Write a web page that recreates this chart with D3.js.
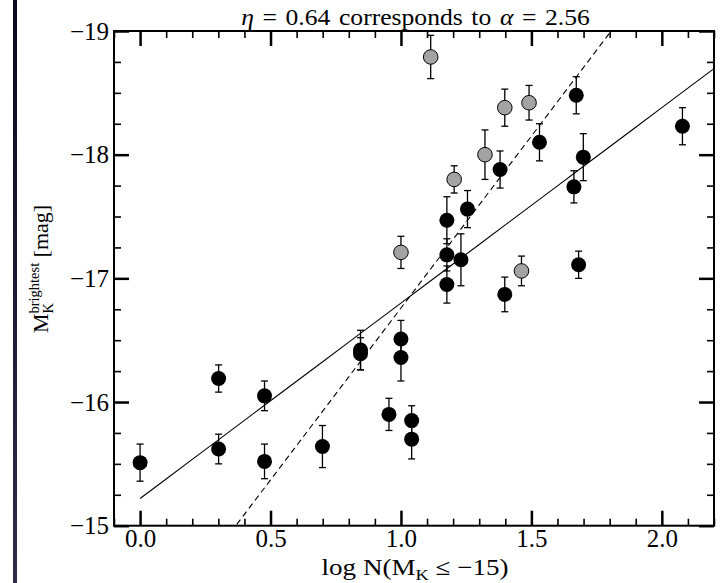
<!DOCTYPE html>
<html>
<head>
<meta charset="utf-8">
<script src="https://cdn.jsdelivr.net/npm/d3@7"></script>
<style>
  body { margin: 0; background: #fff; }
  text { font-family: "Liberation Serif", "DejaVu Serif", serif; fill: #000; }
</style>
</head>
<body>
<svg id="chart" width="725" height="583"></svg>
<script>
//
// Data
//

// filled black points: log N, brightest M_K, error
var blackLogN = [0.000, 0.301, 0.301, 0.477, 0.477, 0.699, 0.845, 0.845, 0.954, 1.000, 1.000, 1.041, 1.041,
                 1.176, 1.176, 1.176, 1.230, 1.255, 1.380, 1.398, 1.531, 1.663, 1.672, 1.681, 1.699, 2.079]
var blackMag  = [-15.51, -16.19, -15.62, -16.05, -15.52, -15.64, -16.42, -16.39, -15.90, -16.51, -16.36, -15.85, -15.70,
                 -17.47, -17.19, -16.95, -17.15, -17.56, -17.88, -16.87, -18.10, -17.74, -18.48, -17.11, -17.98, -18.23]
var blackErr  = [0.15, 0.11, 0.12, 0.12, 0.14, 0.17, 0.16, 0.13, 0.13, 0.15, 0.19, 0.12, 0.16,
                 0.19, 0.13, 0.15, 0.21, 0.15, 0.15, 0.14, 0.15, 0.13, 0.15, 0.11, 0.19, 0.15]

// grey points
var greyLogN = [1.000, 1.114, 1.204, 1.322, 1.398, 1.462, 1.491]
var greyMag  = [-17.21, -18.79, -17.80, -18.00, -18.38, -17.06, -18.42]
var greyErr  = [0.13, 0.175, 0.11, 0.20, 0.15, 0.12, 0.14]

// fits: M = a + b * logN
var fitSolid  = { a: -15.22, b: -1.58 }
var fitDashed = { a: -13.98, b: -2.78 }

var xMajor = [0.0, 0.5, 1.0, 1.5, 2.0]
var yMajor = [-19, -18, -17, -16, -15]
var xLabels = ['0.0', '0.5', '1.0', '1.5', '2.0']
var yLabels = ['\u221219', '\u221218', '\u221217', '\u221216', '\u221215']

//
// Setup
//

var svg = d3.select('#chart')
var pLeft = 114, pRight = 714, pTop = 31, pBottom = 525.7
var x = d3.scaleLinear().domain([-0.1, 2.2]).range([pLeft, pRight])
var y = d3.scaleLinear().domain([-19, -15]).range([pTop, pBottom])

var xMinor = d3.range(-1, 23).map(function (d) { return d / 10 })
  .filter(function (d) { return xMajor.indexOf(d) < 0 })
var yMinor = d3.range(-76, -59).map(function (d) { return d / 4 })
  .filter(function (d) { return yMajor.indexOf(d) < 0 })

// dark strip at the left edge
var defs = svg.append('defs')
var grad = defs.append('linearGradient')
  .attr('id', 'strip').attr('x1', 0).attr('y1', 0).attr('x2', 0).attr('y2', 1)
grad.append('stop').attr('offset', 0).attr('stop-color', '#0a0822')
grad.append('stop').attr('offset', 1).attr('stop-color', '#2e2d4a')
svg.append('rect').attr('x', 13).attr('y', 0).attr('width', 4).attr('height', 583)
  .attr('fill', 'url(#strip)')

defs.append('clipPath').attr('id', 'clip').append('rect')
  .attr('x', pLeft).attr('y', pTop).attr('width', pRight - pLeft).attr('height', pBottom - pTop)

var plot = svg.append('g')

//
// Fit lines
//

function fitLine(f) {
  return d3.range(0, 23).map(function (d) {
    var v = d / 10
    return [x(v), y(f.a + f.b * v)]
  })
}
var line = d3.line()
plot.append('path').attr('d', line(fitLine(fitSolid)))
  .attr('clip-path', 'url(#clip)')
  .attr('fill', 'none').attr('stroke', '#000').attr('stroke-width', 1.1)
plot.append('path').attr('d', line(fitLine(fitDashed)))
  .attr('clip-path', 'url(#clip)')
  .attr('fill', 'none').attr('stroke', '#000').attr('stroke-width', 1.1)
  .attr('stroke-dasharray', '6,4')

//
// Points with error bars
//

function drawBars(xs, ms, es) {
  var pts = xs.map(function (d, i) { return { x: d, m: ms[i], e: es[i] } })
  var bar = plot.append('g').selectAll('g').data(pts).enter().append('g')
    .attr('stroke', '#000').attr('stroke-width', 1.3)
  bar.append('line')
    .attr('x1', function (d) { return x(d.x) }).attr('x2', function (d) { return x(d.x) })
    .attr('y1', function (d) { return y(d.m - d.e) }).attr('y2', function (d) { return y(d.m + d.e) })
  bar.append('line')
    .attr('x1', function (d) { return x(d.x) - 3.5 }).attr('x2', function (d) { return x(d.x) + 3.5 })
    .attr('y1', function (d) { return y(d.m - d.e) }).attr('y2', function (d) { return y(d.m - d.e) })
  bar.append('line')
    .attr('x1', function (d) { return x(d.x) - 3.5 }).attr('x2', function (d) { return x(d.x) + 3.5 })
    .attr('y1', function (d) { return y(d.m + d.e) }).attr('y2', function (d) { return y(d.m + d.e) })
  return pts
}
var blackPts = drawBars(blackLogN, blackMag, blackErr)
var greyPts = drawBars(greyLogN, greyMag, greyErr)

plot.append('g').selectAll('circle').data(blackPts).enter().append('circle')
  .attr('cx', function (d) { return x(d.x) }).attr('cy', function (d) { return y(d.m) })
  .attr('r', 7.5).attr('fill', '#000')
plot.append('g').selectAll('circle').data(greyPts).enter().append('circle')
  .attr('cx', function (d) { return x(d.x) }).attr('cy', function (d) { return y(d.m) })
  .attr('r', 7.3).attr('fill', '#a3a3a3').attr('stroke', '#000').attr('stroke-width', 1)

//
// Axes
//

function styleAxis(g, w) {
  g.select('.domain').remove()
  g.selectAll('line').attr('stroke', '#000').attr('stroke-width', w)
  g.selectAll('text').style('font-family', '"Liberation Serif", serif').style('font-size', '25px')
}

var xFmt = function (d, i) { return xLabels[i] }
var yFmt = function (d, i) { return yLabels[i] }

svg.append('g').attr('transform', 'translate(0,' + pBottom + ')')
  .call(d3.axisBottom(x).tickValues(xMajor).tickSize(-15).tickPadding(4).tickFormat(xFmt))
  .call(styleAxis, 2.5)
svg.append('g').attr('transform', 'translate(0,' + pBottom + ')')
  .call(d3.axisBottom(x).tickValues(xMinor).tickSize(-7).tickFormat(''))
  .call(styleAxis, 1.6)
svg.append('g').attr('transform', 'translate(0,' + pTop + ')')
  .call(d3.axisTop(x).tickValues(xMajor).tickSize(-15).tickFormat(''))
  .call(styleAxis, 2.5)
svg.append('g').attr('transform', 'translate(0,' + pTop + ')')
  .call(d3.axisTop(x).tickValues(xMinor).tickSize(-7).tickFormat(''))
  .call(styleAxis, 1.6)

svg.append('g').attr('transform', 'translate(' + pLeft + ',0)')
  .call(d3.axisLeft(y).tickValues(yMajor).tickSize(-15).tickPadding(5).tickFormat(yFmt))
  .call(styleAxis, 2.5)
svg.append('g').attr('transform', 'translate(' + pLeft + ',0)')
  .call(d3.axisLeft(y).tickValues(yMinor).tickSize(-7).tickFormat(''))
  .call(styleAxis, 1.6)
svg.append('g').attr('transform', 'translate(' + pRight + ',0)')
  .call(d3.axisRight(y).tickValues(yMajor).tickSize(-15).tickFormat(''))
  .call(styleAxis, 2.5)
svg.append('g').attr('transform', 'translate(' + pRight + ',0)')
  .call(d3.axisRight(y).tickValues(yMinor).tickSize(-7).tickFormat(''))
  .call(styleAxis, 1.6)

svg.append('rect').attr('x', pLeft).attr('y', pTop)
  .attr('width', pRight - pLeft).attr('height', pBottom - pTop)
  .attr('fill', 'none').attr('stroke', '#000').attr('stroke-width', 2)

//
// Texts
//

// stretch a centred text horizontally so it spans the target width
function stretch(sel, cx, by, target, rot) {
  var w = sel.node().getBBox().width
  sel.attr('transform', 'translate(' + cx + ',' + by + ')' + (rot ? ' rotate(-90)' : '') +
    ' scale(' + (target / w) + ',1)')
}

var title = svg.append('text').attr('text-anchor', 'middle').attr('font-size', 23)
  .style('word-spacing', '2px')
title.append('tspan').attr('font-style', 'italic').text('\u03b7')
title.append('tspan').text(' = 0.64 corresponds to ')
title.append('tspan').attr('font-style', 'italic').text('\u03b1')
title.append('tspan').text(' = 2.56')
stretch(title, 415.5, 25, 349)

var xl = svg.append('text').attr('text-anchor', 'middle').attr('font-size', 23)
xl.append('tspan').text('log N(M')
xl.append('tspan').attr('font-size', '0.68em').attr('dy', 5).text('K')
xl.append('tspan').attr('dy', -5).text(' \u2264 \u221215)')
stretch(xl, 415, 575, 187)

var yl = svg.append('g').attr('transform', 'translate(48,269) rotate(-90)')
var ylText = yl.append('text').attr('text-anchor', 'middle').attr('font-size', 22)
ylText.append('tspan').text('M')
ylText.append('tspan').attr('font-size', '0.66em').attr('dy', -9).text('brightest')
ylText.append('tspan').attr('dy', 9).text(' [mag]')
var ylW = ylText.node().getBBox().width
ylText.attr('font-size', 22 * 128 / ylW)
// subscript K placed below the superscript
var mW = ylText.select('tspan').node().getComputedTextLength()
var totalW = ylText.node().getBBox().width
var ylFs = parseFloat(ylText.attr('font-size'))
yl.append('text').attr('x', -totalW / 2 + mW).attr('y', ylFs * 0.25)
  .attr('font-size', ylFs * 0.66).text('K')
</script>
</body>
</html>
